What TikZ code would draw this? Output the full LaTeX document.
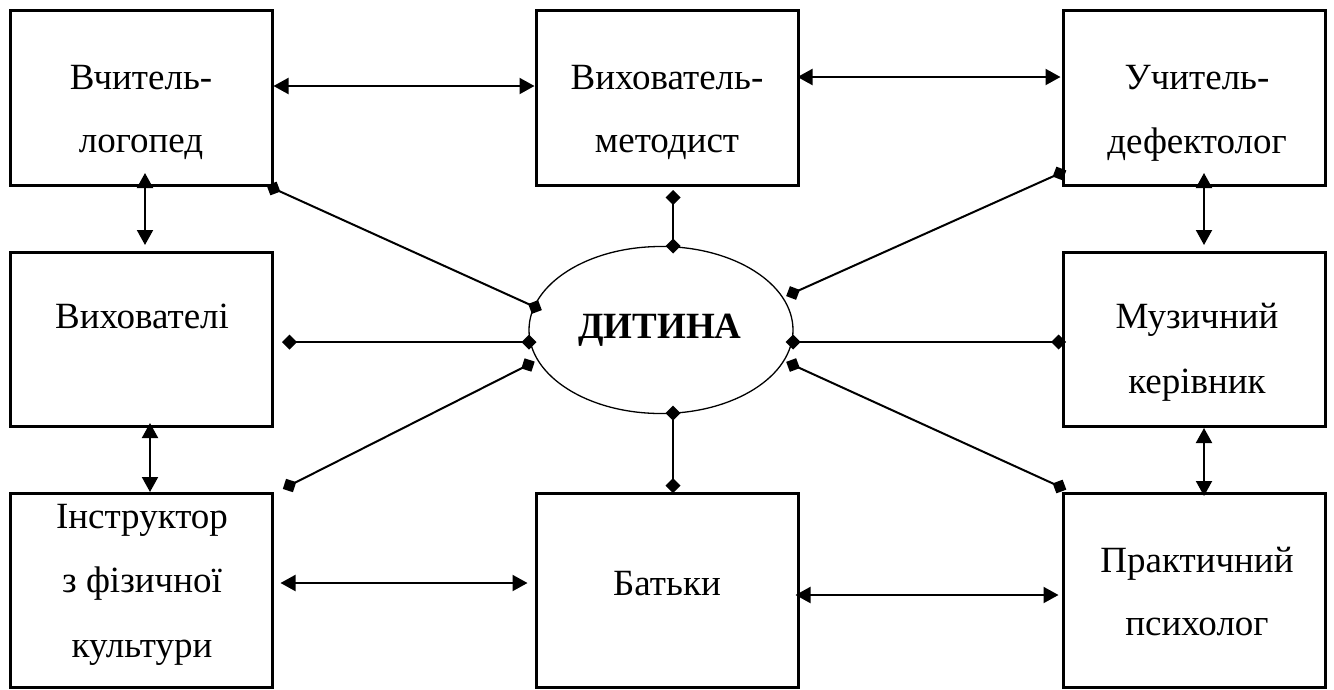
\documentclass[tikz,border=0pt]{standalone}
\usepackage{fontspec}
\setmainfont{Liberation Serif}
\usetikzlibrary{arrows.meta,shapes.geometric}
\tikzset{
  box/.style={draw, line width=3pt, rectangle, inner sep=0pt, minimum width=262pt},
  tophigh/.style={minimum height=175pt},
  midhigh/.style={minimum height=174pt},
  bothigh/.style={minimum height=194pt},
  txt/.style={inner sep=0pt, anchor=base, font=\fontsize{37}{44}\selectfont},
  dbl/.style={line width=2pt, {Triangle[length=15pt,width=16pt]}-{Triangle[length=15pt,width=16pt]}},
  dia/.style={line width=2pt, {Diamond[length=15pt,width=15pt]}-{Diamond[length=15pt,width=15pt]}, shorten <=-7.5pt, shorten >=-7.5pt},
}
\begin{document}
\begin{tikzpicture}[x=1pt,y=-1pt]
\useasboundingbox (0,0) rectangle (1334,689);
% boxes
\node[box,tophigh] (b1) at (141,97.5) {};
\node[box,tophigh] (b2) at (667,97.5) {};
\node[box,tophigh] (b3) at (1194,97.5) {};
\node[box,midhigh] (b4) at (141,339) {};
\node[box,midhigh] (b6) at (1194,339) {};
\node[box,bothigh] (b7) at (141,590) {};
\node[box,bothigh] (b8) at (667,590) {};
\node[box,bothigh] (b9) at (1194,590) {};
% ellipse
\node[draw, ellipse, line width=1.3pt, inner sep=0pt, minimum width=264pt, minimum height=167pt] (child) at (661,330) {};
% texts
\node[txt] (t1a) at (141,89) {Вчитель-};
\node[txt] (t1b) at (141,152) {логопед};
\node[txt] (t2a) at (667,89) {Вихователь-};
\node[txt] (t2b) at (667,152) {методист};
\node[txt] (t3a) at (1197,89) {Учитель-};
\node[txt] (t3b) at (1197,153) {дефектолог};
\node[txt] (t4) at (142,328) {Вихователі};
\node[txt] (t6a) at (1197,328) {Музичний};
\node[txt] (t6b) at (1197,393) {керівник};
\node[txt] (t7a) at (142,528) {Інструктор};
\node[txt] (t7b) at (142,592) {з фізичної};
\node[txt] (t7c) at (142,657) {культури};
\node[txt] (t8) at (667,595) {Батьки};
\node[txt] (t9a) at (1197,572) {Практичний};
\node[txt] (t9b) at (1197,635) {психолог};
\node[txt, font=\fontsize{37}{44}\selectfont\bfseries] (tc) at (660,338) {ДИТИНА};
% double arrows between boxes
\draw[dbl] ([shift={(0,-11.5)}]b1.east) -- ([shift={(0,-11.5)}]b2.west);
\draw[dbl] ([shift={(-2,-20.5)}]b2.east) -- ([shift={(-1,-20.5)}]b3.west);
\draw[dbl] ([shift={(7,-7)}]b7.east) -- ([shift={(-7,-7)}]b8.west);
\draw[dbl] ([shift={(-4,5)}]b8.east) -- ([shift={(-3,5)}]b9.west);
\draw[dbl] ([shift={(4,-13.5)}]b1.south) -- ([shift={(4,-5.5)}]b4.north);
\draw[dbl] ([shift={(10,-13.5)}]b3.south) -- ([shift={(10,-5.5)}]b6.north);
\draw[dbl] ([shift={(9,-4.5)}]b4.south) -- ([shift={(9,0.5)}]b7.north);
\draw[dbl] ([shift={(10,0.5)}]b6.south) -- ([shift={(10,4.5)}]b9.north);
% connectors to the child
\draw[dia] ([shift={(0,2)}]b1.south east) -- ([shift={(-126,-23)}]child.center);
\draw[dia] ([shift={(16,3)}]b4.east) -- ([shift={(-132,12)}]child.center);
\draw[dia] ([shift={(16,-6)}]b7.north east) -- ([shift={(-133,35)}]child.center);
\draw[dia] ([shift={(6,11)}]b2.south) -- ([shift={(12,-84)}]child.center);
\draw[dia] ([shift={(6,-6)}]b8.north) -- ([shift={(12,83)}]child.center);
\draw[dia] ([shift={(-2,-13)}]b3.south west) -- ([shift={(132,-37)}]child.center);
\draw[dia] ([shift={(-3,3)}]b6.west) -- ([shift={(132,12)}]child.center);
\draw[dia] ([shift={(-2,-5)}]b9.north west) -- ([shift={(132,35)}]child.center);
\end{tikzpicture}
\end{document}
